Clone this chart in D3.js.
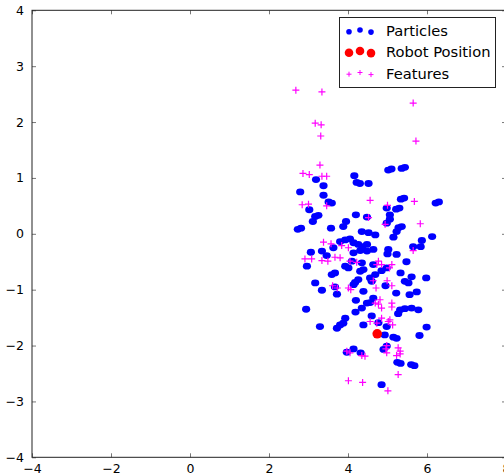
<!DOCTYPE html>
<html>
<head>
<meta charset="utf-8">
<script src="https://cdn.jsdelivr.net/npm/d3@7/dist/d3.min.js"></script>
<style>
  html, body { margin: 0; padding: 0; background: #fff; overflow: hidden; }
  svg { display: block; font-family: "DejaVu Sans", sans-serif; }
</style>
</head>
<body>
<svg id="chart" width="504" height="475"></svg>
<script>
// Particle filter snapshot: particle cloud, estimated robot pose and observed features.
const particleX = [
  3.19, 3.38, 2.79, 3.38, 3.51, 3.59, 4.16, 4.22, 4.30, 4.52,
  5.02, 5.10, 5.36, 5.44, 5.34, 5.42, 6.22, 6.30, 4.98, 5.22,
  5.30, 3.02, 3.17, 3.25, 3.11, 4.20, 4.48, 3.95, 3.88, 5.06,
  5.06, 4.98, 5.28, 5.36, 2.73, 2.81, 3.57, 4.35, 4.52, 4.69,
  5.23, 5.15, 6.13, 5.87, 5.65, 5.84, 3.80, 3.93, 4.05, 4.14,
  4.26, 4.36, 4.48, 3.63, 3.34, 3.06, 3.46, 4.14, 4.31, 4.48,
  4.64, 5.02, 5.23, 5.00, 4.10, 4.35, 4.64, 5.48, 2.96, 3.93,
  4.01, 3.59, 3.67, 4.31, 4.39, 4.85, 4.69, 4.56, 5.33, 5.61,
  5.98, 5.53, 4.95, 4.18, 4.26, 4.60, 3.17, 3.34, 3.67, 3.72,
  4.14, 4.39, 5.22, 5.56, 5.74, 4.20, 4.48, 4.56, 4.64, 2.94,
  4.19, 4.35, 5.32, 5.44, 5.61, 5.78, 5.27, 4.60, 3.93, 3.29,
  3.72, 3.80, 3.88, 4.39, 4.77, 4.98, 5.99, 4.93, 5.15, 5.23,
  5.81, 4.90, 4.98, 4.14, 3.97, 4.32, 5.25, 5.33, 5.60, 5.68,
  4.85, 4.98, 5.44
];
const particleY = [
  0.97, 0.86, 0.75, 0.69, 0.57, 0.55, 1.04, 0.92, 0.90, 0.90,
  1.14, 1.16, 1.17, 1.19, 0.62, 0.64, 0.55, 0.57, 0.46, 0.44,
  0.46, 0.43, 0.31, 0.33, 0.22, 0.34, 0.30, 0.22, 0.13, 0.34,
  0.26, 0.19, 0.11, 0.13, 0.08, 0.10, 0.10, 0.04, 0.02, -0.02,
  0.04, -0.06, -0.05, -0.12, -0.23, -0.23, -0.14, -0.11, -0.09, -0.16,
  -0.19, -0.23, -0.19, -0.25, -0.31, -0.33, -0.39, -0.34, -0.30, -0.31,
  -0.28, -0.28, -0.37, -0.36, -0.49, -0.52, -0.55, -0.50, -0.58, -0.58,
  -0.61, -0.73, -0.70, -0.67, -0.64, -0.66, -0.73, -0.79, -0.70, -0.77,
  -0.79, -0.88, -0.93, -0.87, -0.82, -0.85, -0.88, -1.01, -0.95, -1.08,
  -0.91, -1.03, -1.06, -1.09, -1.04, -1.19, -1.24, -1.23, -1.15, -1.35,
  -1.40, -1.33, -1.36, -1.34, -1.33, -1.36, -1.43, -1.47, -1.51, -1.66,
  -1.69, -1.63, -1.60, -1.63, -1.59, -1.66, -1.67, -1.81, -1.85, -1.87,
  -1.82, -2.07, -2.01, -2.06, -2.12, -2.13, -2.30, -2.32, -2.34, -2.36,
  -2.70, -0.61, -0.85
];

const robotX = [4.74];
const robotY = [-1.79];

const featureX = [
  2.68, 3.34, 3.17, 3.32, 3.31, 3.29, 2.86, 3.02, 3.34, 3.46,
  5.65, 5.72, 4.56, 5.68, 2.84, 3.00, 3.46, 5.00, 4.52, 4.94,
  5.83, 3.38, 3.57, 3.84, 4.01, 5.65, 2.91, 3.08, 3.34, 3.49,
  3.67, 3.80, 4.05, 4.22, 4.77, 4.85, 4.73, 5.11, 5.05, 4.64,
  4.99, 5.11, 4.71, 3.61, 3.73, 4.01, 4.07, 4.81, 4.77, 4.85,
  5.11, 5.11, 4.69, 4.85, 5.06, 4.73, 5.13, 4.56, 5.02, 3.97,
  4.05, 4.35, 4.43, 4.98, 4.96, 4.98, 5.27, 5.32, 5.23, 5.32,
  5.27, 4.01, 4.37, 5.01
];
const featureY = [
  2.57, 2.54, 1.98, 1.95, 1.75, 1.23, 1.08, 1.06, 1.03, 1.03,
  2.34, 1.66, 0.60, 0.58, 0.52, 0.53, 0.50, 0.51, 0.29, 0.17,
  0.18, -0.15, -0.18, -0.21, -0.25, -0.30, -0.45, -0.45, -0.48, -0.49,
  -0.42, -0.43, -0.49, -0.51, -0.49, -0.55, -0.55, -0.55, -0.61, -0.84,
  -0.84, -0.93, -0.97, -0.93, -0.97, -0.97, -1.00, -1.18, -1.26, -1.33,
  -1.24, -1.31, -1.24, -1.51, -1.54, -1.60, -1.63, -1.57, -1.57, -2.10,
  -2.13, -2.18, -2.19, -2.00, -2.06, -2.13, -2.04, -2.10, -2.18, -2.15,
  -2.52, -2.63, -2.66, -2.81
];

const xTicks = [-4, -2, 0, 2, 4, 6, 8];
const yTicks = [-4, -3, -2, -1, 0, 1, 2, 3, 4];
const legendLabels = ["Particles", "Robot Position", "Features"];
const colors = { particles: "#0000ff", robot: "#ff0000", features: "#ff00ff" };

const svg = d3.select("#chart");
const plotLeft = 32, plotTop = 10.3, plotRight = 506, plotBottom = 457.3;

const x = d3.scaleLinear().domain([-4, 8]).range([plotLeft, plotRight]);
const y = d3.scaleLinear().domain([-4, 4]).range([plotBottom, plotTop]);

const fmt = d => (d < 0 ? "\u2212" + Math.abs(d) : String(d));

// Axes: labels outside, short tick marks pointing inward on all four sides
const bottomAxis = d3.axisBottom(x).tickValues(xTicks).tickFormat(fmt).tickSizeInner(-4).tickSizeOuter(0).tickPadding(7);
const topAxis = d3.axisTop(x).tickValues(xTicks).tickFormat("").tickSizeInner(-4).tickSizeOuter(0);
const leftAxis = d3.axisLeft(y).tickValues(yTicks).tickFormat(fmt).tickSizeInner(-4).tickSizeOuter(0).tickPadding(8);
const rightAxis = d3.axisRight(y).tickValues(yTicks).tickFormat("").tickSizeInner(-4).tickSizeOuter(0);

function styleAxis(g) {
  g.select(".domain").remove();
  g.selectAll(".tick line").attr("stroke", "#777").attr("stroke-width", 1);
  g.selectAll(".tick text").attr("fill", "#000").attr("font-size", 12.5)
    .attr("font-family", "DejaVu Sans, sans-serif");
}

svg.append("g").attr("transform", `translate(0,${plotBottom})`).call(bottomAxis).call(styleAxis);
svg.append("g").attr("transform", `translate(0,${plotTop})`).call(topAxis).call(styleAxis);
svg.append("g").attr("transform", `translate(${plotLeft},0)`).call(leftAxis).call(styleAxis);
svg.append("g").attr("transform", `translate(${plotRight},0)`).call(rightAxis).call(styleAxis);

// Plot frame
svg.append("rect")
  .attr("x", plotLeft).attr("y", plotTop)
  .attr("width", plotRight - plotLeft).attr("height", plotBottom - plotTop)
  .attr("fill", "none").attr("stroke", "#222").attr("stroke-width", 1);

const plot = svg.append("g");

// Particles (slightly wide blobs)
plot.append("g").selectAll("ellipse")
  .data(d3.range(particleX.length))
  .join("ellipse")
  .attr("cx", i => x(particleX[i]))
  .attr("cy", i => y(particleY[i]))
  .attr("rx", 4.1)
  .attr("ry", 3.4)
  .attr("fill", colors.particles);

// Robot position
plot.append("g").selectAll("circle")
  .data(d3.range(robotX.length))
  .join("circle")
  .attr("cx", i => x(robotX[i]))
  .attr("cy", i => y(robotY[i]))
  .attr("r", 4.8)
  .attr("fill", colors.robot);

// Features drawn as plus markers
const plus = (cx, cy, h) => `M${cx - h},${cy}H${cx + h}M${cx},${cy - h}V${cy + h}`;
plot.append("g").selectAll("path")
  .data(d3.range(featureX.length))
  .join("path")
  .attr("d", i => plus(x(featureX[i]), y(featureY[i]), 3.5))
  .attr("stroke", colors.features)
  .attr("stroke-width", 1.2)
  .attr("fill", "none");

// Legend
const legend = svg.append("g");
legend.append("rect")
  .attr("x", 339.5).attr("y", 17.5).attr("width", 156).attr("height", 70)
  .attr("fill", "#fff").attr("stroke", "#222").attr("stroke-width", 1);

const rowY = [31, 52, 73.5];
const markX = [349, 360, 371];
const jitter = [0.7, -1, 1.1];

legendLabels.forEach((label, k) => {
  const cy = rowY[k];
  markX.forEach((mx, j) => {
    const my = cy + jitter[j];
    if (k === 0) {
      legend.append("circle").attr("cx", mx).attr("cy", my).attr("r", 2.8).attr("fill", colors.particles);
    } else if (k === 1) {
      legend.append("circle").attr("cx", mx).attr("cy", my).attr("r", 4.3).attr("fill", colors.robot);
    } else {
      legend.append("path").attr("d", plus(mx, my, 2.5))
        .attr("stroke", colors.features).attr("stroke-width", 1).attr("fill", "none");
    }
  });
  legend.append("text")
    .attr("x", 386).attr("y", cy + 5.2)
    .attr("font-size", 14.7)
    .attr("fill", "#000")
    .text(label);
});
</script>
</body>
</html>
